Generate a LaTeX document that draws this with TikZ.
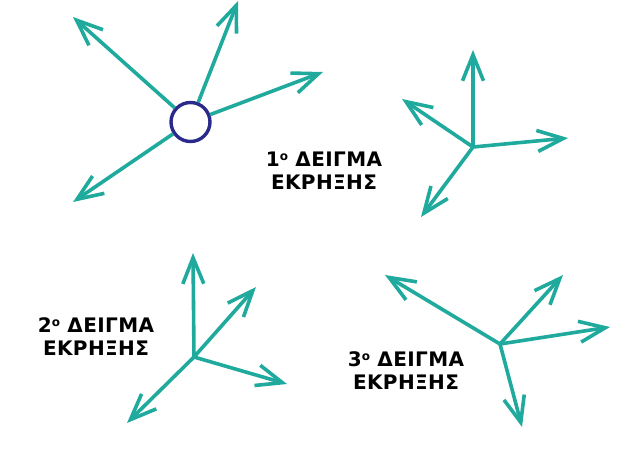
\documentclass[tikz,border=0pt]{standalone}
\usepackage{fontspec}
\setmainfont{DejaVu Sans}[LetterSpace=2]
\usetikzlibrary{arrows.meta}
\definecolor{teal1}{HTML}{1FAA9D}
\definecolor{navy1}{HTML}{2A2A8C}
\tikzset{
  arr/.style={draw=teal1, line width=3.6pt, -{Straight Barb[length=26pt,width=21pt,line width=3.6pt]}},
  lbl/.style={align=center, font=\bfseries\fontsize{20}{23}\selectfont, text=black, inner sep=0pt},
  hub/.style={circle, draw=navy1, line width=3.4pt, minimum size=39pt, inner sep=0pt, fill=white}
}
\newcommand{\ordo}[1]{#1\raisebox{0.6ex}{\fontsize{12}{12}\selectfont ο}}
\begin{document}
\begin{tikzpicture}[x=1pt,y=-1pt]
\useasboundingbox (0,0) rectangle (640,456);
% diagram 1
\node[hub] (c1) at (190.5,122) {};
\coordinate (a1) at (73,17);
\coordinate (a2) at (238,1);
\coordinate (a3) at (323,72);
\coordinate (a4) at (73,202);
\foreach \t in {a1,a2,a3,a4} \draw[arr] (c1) -- (\t);
% diagram 2
\coordinate (c2) at (473,147);
\coordinate (b1) at (473,50);
\coordinate (b2) at (402,99);
\coordinate (b3) at (568,138);
\coordinate (b4) at (421,217);
\foreach \t in {b1,b2,b3,b4} \draw[arr] (c2) -- (\t);
% diagram 3
\coordinate (c3) at (194,357);
\coordinate (d1) at (193,253);
\coordinate (d2) at (256,287);
\coordinate (d3) at (287,384);
\coordinate (d4) at (127,423);
\foreach \t in {d1,d2,d3,d4} \draw[arr] (c3) -- (\t);
% diagram 4
\coordinate (c4) at (500,344);
\coordinate (e1) at (385,275);
\coordinate (e2) at (563,275);
\coordinate (e3) at (610,327);
\coordinate (e4) at (522,427);
\foreach \t in {e1,e2,e3,e4} \draw[arr] (c4) -- (\t);
% labels
\node[lbl] (l1) at (324,171) {\ordo{1} ΔΕΙΓΜΑ\\ΕΚΡΗΞΗΣ};
\node[lbl] (l2) at (96,337) {\ordo{2} ΔΕΙΓΜΑ\\ΕΚΡΗΞΗΣ};
\node[lbl] (l3) at (406,371) {\ordo{3} ΔΕΙΓΜΑ\\ΕΚΡΗΞΗΣ};
\end{tikzpicture}
\end{document}
